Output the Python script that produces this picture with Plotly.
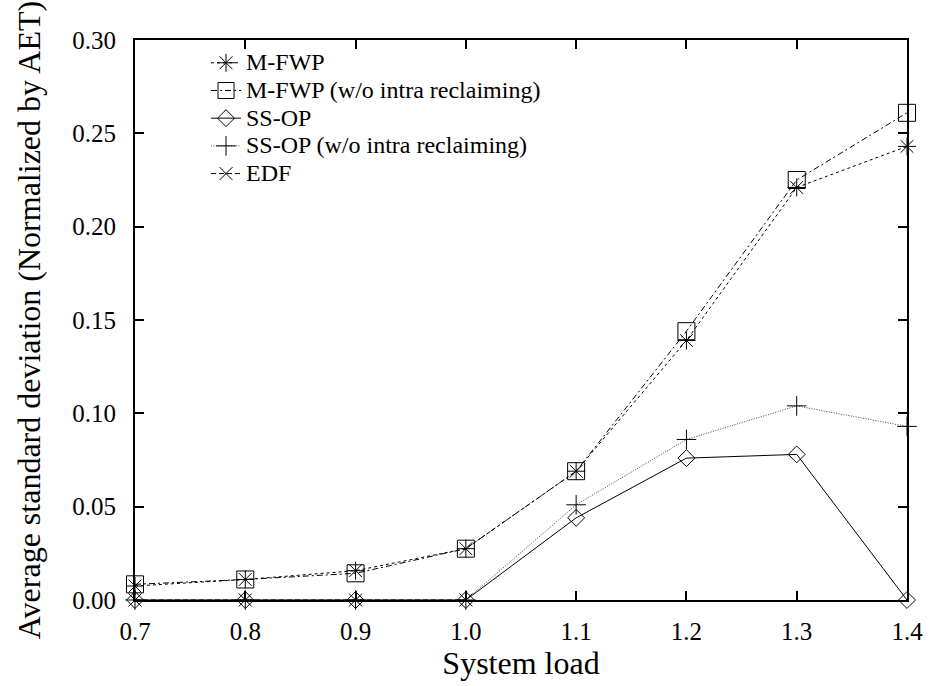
import plotly.graph_objects as go

loads = [0.7, 0.8, 0.9, 1.0, 1.1, 1.2, 1.3, 1.4]
mfwp = [0.0075, 0.011, 0.0157, 0.0275, 0.069, 0.139, 0.221, 0.243]
mfwp_wo = [0.0084, 0.011, 0.0143, 0.0275, 0.069, 0.144, 0.225, 0.261]
ssop = [0.0, 0.0, 0.0, 0.0, 0.044, 0.076, 0.078, 0.0]
ssop_wo = [0.0, 0.0, 0.0, 0.0, 0.051, 0.086, 0.104, 0.093]
edf = [0.0, 0.0, 0.0, 0.0, None, None, None, None]

names = ["M-FWP", "M-FWP (w/o intra reclaiming)", "SS-OP",
         "SS-OP (w/o intra reclaiming)", "EDF"]
series = [mfwp, mfwp_wo, ssop, ssop_wo, edf]
symbols = ["asterisk-open", "square-open", "diamond-open", "cross-thin-open", "x-thin-open"]
sizes = [15, 17, 13, 14, 13]
dashes = ["3px,3px", "6px,3px,2px,3px", "solid", "1px,1.5px", "5px,3px"]
colors = ["black", "black", "black", "#444", "black"]

FONT = "Liberation Serif"

fig = go.Figure()
for name, ys, sym, sz, dash, col in zip(names, series, symbols, sizes, dashes, colors):
    fig.add_trace(go.Scatter(
        x=loads, y=ys, name=f'<span style="font-size:24px">{name}</span>',
        mode="lines+markers", cliponaxis=False,
        line=dict(color=col, width=1, dash=dash),
        marker=dict(symbol=sym, size=sz, color="black", line=dict(color="black", width=1)),
    ))

axis_common = dict(
    showline=True, linecolor="black", linewidth=2, mirror="ticks",
    ticks="inside", ticklen=9, tickwidth=1.5, tickcolor="black",
    showgrid=False, zeroline=False,
    tickfont=dict(family=FONT, size=25, color="black"),
)

fig.update_layout(
    width=935, height=686,
    margin=dict(l=135, r=22, t=40, b=86),
    paper_bgcolor="white", plot_bgcolor="white",
    font=dict(family=FONT, color="black"),
    showlegend=True,
    legend=dict(x=0.092, y=0.993, xanchor="left", yanchor="top",
                bgcolor="rgba(0,0,0,0)", borderwidth=0,
                font=dict(family=FONT, size=19, color="black")),
    xaxis=dict(range=[0.7, 1.4], tickvals=loads, tickformat=".1f",
               ticklabelstandoff=8,
               title=dict(text="System load", font=dict(family=FONT, size=32), standoff=6),
               **axis_common),
    yaxis=dict(range=[0, 0.30], dtick=0.05, tick0=0, tickformat=".2f",
               ticklabelstandoff=12,
               title=dict(text="Average standard deviation (Normalized by AET)",
                          font=dict(family=FONT, size=32), standoff=22),
               **axis_common),
)

fig.write_html("out.html")
